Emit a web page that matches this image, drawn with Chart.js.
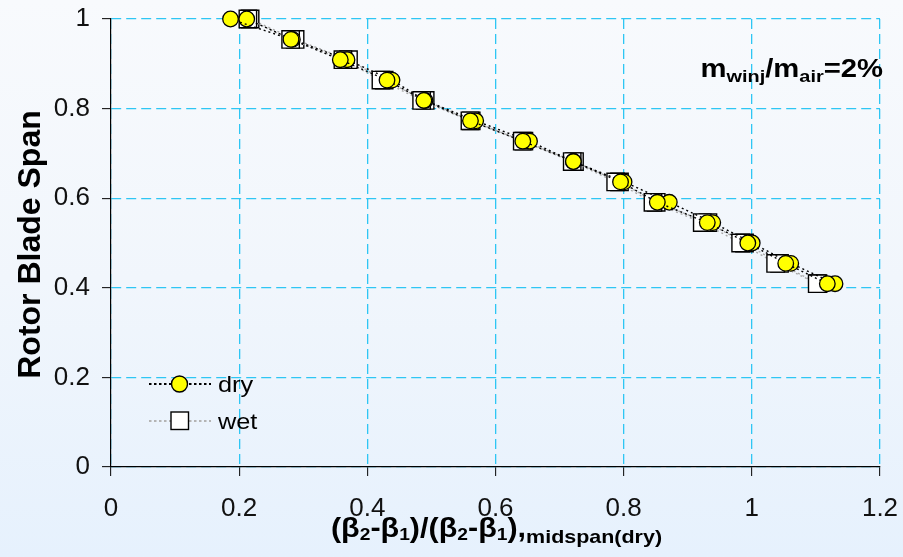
<!DOCTYPE html>
<html><head><meta charset="utf-8">
<script src="https://cdn.jsdelivr.net/npm/chart.js@4.4.1/dist/chart.umd.min.js"></script>
<style>
html,body{margin:0;padding:0;width:903px;height:557px;overflow:hidden;
  background:linear-gradient(to bottom,#f8fafd 0%,#f1f6fc 50%,#e6f1fd 100%);}
canvas{display:block}
</style></head><body>
<canvas id="c" width="903" height="557"></canvas>
<script>
// ---- data ----
const spanY = [1.0, 0.9545, 0.9091, 0.8636, 0.8182, 0.7727, 0.7273, 0.6818, 0.6364, 0.5909, 0.5455, 0.5, 0.4545, 0.4091];
const dryX1 = [0.1865, 0.2809, 0.3578, 0.4307, 0.4882, 0.5609, 0.6426, 0.7215, 0.7951, 0.8525, 0.9305, 0.9937, 1.0529, 1.1178];
const dryX2 = [0.2118, 0.2830, 0.3683, 0.4385, 0.4900, 0.5691, 0.6531, 0.7215, 0.8006, 0.8712, 0.9390, 1.0006, 1.0607, 1.1298];
const wetX1 = [0.2136, 0.2803, 0.3619, 0.4212, 0.4847, 0.5601, 0.6417, 0.7197, 0.7875, 0.8457, 0.9226, 0.9825, 1.0371, 1.1020];
const wetX2 = [0.2171, 0.2873, 0.3706, 0.4263, 0.4903, 0.5621, 0.6443, 0.7233, 0.7935, 0.8508, 0.9315, 0.9886, 1.0432, 1.1032];
const xTicks = [0, 0.2, 0.4, 0.6, 0.8, 1, 1.2];
const yTicks = [0, 0.2, 0.4, 0.6, 0.8, 1];
const seriesNames = ['dry', 'wet'];
const yTitle = 'Rotor Blade Span';
const xTitleParts = [['(β',0],['2',1],['-β',0],['1',1],[')/(β',0],['2',1],['-β',0],['1',1],['),',0],['midspan(dry)',2]];
const noteParts = [['m',0],['winj',1],['/m',0],['air',1],['=2%',0]];

const pts = xs => xs.map((x, i) => ({x, y: spanY[i]}));
const FONT = '"Liberation Sans", Arial, Helvetica, sans-serif';

function drawRich(ctx, parts, styles, x, baseline, sx, align) {
  let total = 0; const w = [];
  parts.forEach(([t, s]) => { ctx.font = styles[s].font; const m = ctx.measureText(t).width; w.push(m); total += m; });
  ctx.save();
  ctx.fillStyle = '#000'; ctx.textBaseline = 'alphabetic'; ctx.textAlign = 'left';
  const startX = align === 'center' ? x - total * sx / 2 : x;
  ctx.translate(startX, baseline); ctx.scale(sx, 1);
  let cx = 0;
  parts.forEach(([t, s], i) => { ctx.font = styles[s].font; ctx.fillText(t, cx, styles[s].dy); cx += w[i]; });
  ctx.restore();
}

const textPlugin = {
  id: 'texts',
  afterDraw(chart) {
    const ctx = chart.ctx, ca = chart.chartArea;
    // y title
    ctx.save();
    ctx.fillStyle = '#000';
    ctx.font = 'bold 32px ' + FONT;
    ctx.translate(40, (ca.top + ca.bottom) / 2 + 1.5);
    ctx.rotate(-Math.PI / 2);
    ctx.textAlign = 'center'; ctx.textBaseline = 'alphabetic';
    ctx.fillText(yTitle, 0, 0);
    ctx.restore();
    // x title
    drawRich(ctx, xTitleParts, [
      {font: 'bold 27px ' + FONT, dy: 0},
      {font: 'bold 17px ' + FONT, dy: 3.6},
      {font: 'bold 19px ' + FONT, dy: 6}
    ], (ca.left + ca.right) / 2 + 1, 536.5, 1.13, 'center');
    // annotation
    drawRich(ctx, noteParts, [
      {font: 'bold 25px ' + FONT, dy: 0},
      {font: 'bold 17px ' + FONT, dy: 5.6}
    ], 700.5, 76.7, 1.17, 'left');
    // legend
    const items = [
      {label: seriesNames[0], y: 384, line: '#000', kind: 'circle'},
      {label: seriesNames[1], y: 421, line: '#b4b4b4', kind: 'rect'}
    ];
    items.forEach(it => {
      ctx.save();
      ctx.setLineDash([2.5, 2.5]);
      ctx.lineWidth = 2; ctx.strokeStyle = it.line;
      ctx.beginPath(); ctx.moveTo(149, it.y); ctx.lineTo(211, it.y); ctx.stroke();
      ctx.setLineDash([]);
      ctx.lineWidth = 1.4; ctx.strokeStyle = '#000';
      if (it.kind === 'circle') {
        ctx.fillStyle = '#ffff00';
        ctx.beginPath(); ctx.arc(179.5, it.y, 8, 0, Math.PI * 2); ctx.fill(); ctx.stroke();
      } else {
        ctx.fillStyle = '#ffffff';
        ctx.fillRect(171, it.y - 9, 17.5, 17.5); ctx.strokeRect(171, it.y - 9, 17.5, 17.5);
      }
      ctx.restore();
      drawRich(ctx, [[it.label, 0]], [{font: '22px ' + FONT, dy: 0}], 218, it.y + 7.5, 1.15, 'left');
    });
  }
};

const fmt = v => String(Number(Number(v).toFixed(1)));
const gridCommon = {
  color: '#2ec6f4', lineWidth: 1.3, tickColor: '#000', tickLength: 9, tickWidth: 1, drawTicks: true
};
const noPad = s => { s.paddingLeft = 0; s.paddingRight = 0; s.paddingTop = 0; s.paddingBottom = 0; };

const dryStyle = {
  showLine: true, borderColor: '#000', borderWidth: 1.4, borderDash: [2, 3], clip: false,
  pointStyle: 'circle', pointRadius: 7.8, pointBackgroundColor: '#ffff00',
  pointBorderColor: '#000', pointBorderWidth: 1.3, fill: false
};
const wetStyle = {
  showLine: true, borderColor: '#a8a8a8', borderWidth: 1.4, borderDash: [2, 3], clip: false,
  pointStyle: 'rect', pointRadius: 12.3, pointBackgroundColor: '#ffffff',
  pointBorderColor: '#000', pointBorderWidth: 1.4, fill: false
};

new Chart(document.getElementById('c'), {
  type: 'scatter',
  data: {
    datasets: [
      Object.assign({label: seriesNames[0], data: pts(dryX1)}, dryStyle),
      Object.assign({label: seriesNames[0] + ' (2)', data: pts(dryX2)}, dryStyle),
      Object.assign({label: seriesNames[1], data: pts(wetX1)}, wetStyle),
      Object.assign({label: seriesNames[1] + ' (2)', data: pts(wetX2)}, wetStyle)
    ]
  },
  options: {
    responsive: false, animation: false, devicePixelRatio: 1,
    layout: {padding: {left: 0, top: 19, right: 23, bottom: 0}},
    plugins: {legend: {display: false}, tooltip: {enabled: false}},
    scales: {
      x: {
        type: 'linear', min: 0, max: 1.2,
        afterBuildTicks: s => { s.ticks = xTicks.map(v => ({value: v})); },
        afterFit: s => { s.height = 90; noPad(s); },
        ticks: {callback: fmt, color: '#111', font: {family: FONT, size: 26}, padding: 17, maxRotation: 0, autoSkip: false},
        grid: gridCommon,
        border: {display: true, color: '#000', width: 1.2, dash: [10, 5]}
      },
      y: {
        type: 'linear', min: 0, max: 1,
        afterBuildTicks: s => { s.ticks = yTicks.map(v => ({value: v})); },
        afterFit: s => { s.width = 111; noPad(s); },
        ticks: {callback: fmt, color: '#111', font: {family: FONT, size: 26}, padding: 12, autoSkip: false},
        grid: gridCommon,
        border: {display: true, color: '#000', width: 1.2, dash: [10, 5]}
      }
    }
  },
  plugins: [textPlugin]
});
</script>
</body></html>
